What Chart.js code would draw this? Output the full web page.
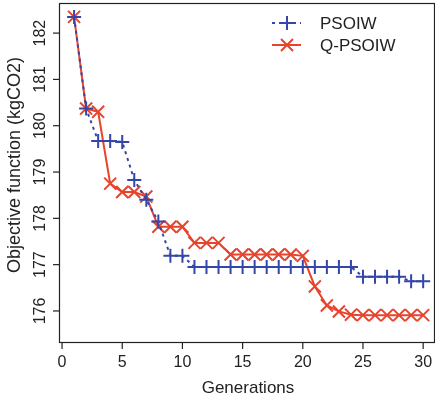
<!DOCTYPE html>
<html>
<head>
<meta charset="utf-8">
<script src="https://cdn.jsdelivr.net/npm/chart.js@4/dist/chart.umd.min.js"></script>
<style>
  html, body { margin: 0; padding: 0; background: #fff; overflow: hidden; }
  canvas { display: block; }
</style>
</head>
<body>
<canvas id="chart" width="435" height="401"></canvas>
<script>
// data
const generations = [1,2,3,4,5,6,7,8,9,10,11,12,13,14,15,16,17,18,19,20,21,22,23,24,25,26,27,28,29,30];
const psoiw = [182.35,180.37,179.67,179.67,179.65,178.83,178.40,177.93,177.19,177.19,
  176.95,176.95,176.95,176.95,176.95,176.95,176.95,176.95,176.95,176.95,176.95,176.95,176.95,176.95,
  176.74,176.74,176.74,176.74,176.64,176.64];
const qpsoiw = [182.35,180.37,180.30,178.75,178.57,178.57,178.47,177.82,177.82,177.82,
  177.47,177.47,177.47,177.22,177.22,177.22,177.22,177.22,177.22,177.19,
  176.53,176.12,175.99,175.92,175.91,175.91,175.91,175.91,175.91,175.91];
const xTicks = [0,5,10,15,20,25,30];
const yTicks = [176,177,178,179,180,181,182];

const BLUE = "#3446a8";
const RED = "#e8432c";
const FAMILY = "'Liberation Sans', Arial, sans-serif";

// R-style axes, box and legend drawn by hand
const rStyle = {
  id: "rStyle",
  afterDraw(chart) {
    const ctx = chart.ctx;
    const a = chart.chartArea;
    const xs = chart.scales.x, ys = chart.scales.y;
    ctx.save();
    ctx.strokeStyle = "#222";
    ctx.fillStyle = "#222";
    ctx.lineWidth = 1.2;
    ctx.strokeRect(a.left - 0.5, a.top + 0.5, a.right - a.left + 1, a.bottom - a.top);

    ctx.textAlign = "center";
    ctx.textBaseline = "middle";
    ctx.font = "16px " + FAMILY;
    xTicks.forEach(t => {
      const px = xs.getPixelForValue(t);
      ctx.beginPath();
      ctx.moveTo(px, a.bottom);
      ctx.lineTo(px, a.bottom + 7);
      ctx.stroke();
      ctx.fillText(String(t), px, a.bottom + 21);
    });
    ctx.font = "17px " + FAMILY;
    ctx.fillText("Generations", 248, 388);

    ctx.font = "16px " + FAMILY;
    yTicks.forEach(t => {
      const py = ys.getPixelForValue(t);
      ctx.beginPath();
      ctx.moveTo(a.left, py);
      ctx.lineTo(a.left - 7, py);
      ctx.stroke();
      ctx.save();
      ctx.translate(41, py);
      ctx.rotate(-Math.PI / 2);
      ctx.fillText(String(t), 0, 0);
      ctx.restore();
    });
    ctx.font = "18px " + FAMILY;
    ctx.save();
    ctx.translate(15, 165);
    ctx.rotate(-Math.PI / 2);
    ctx.fillText("Objective function (kgCO2)", 0, 0);
    ctx.restore();

    // legend
    const items = [
      { label: "PSOIW", color: BLUE, dash: [3, 4], y: 23, cross: true },
      { label: "Q-PSOIW", color: RED, dash: [], y: 45, cross: false }
    ];
    ctx.font = "17px " + FAMILY;
    ctx.textAlign = "left";
    items.forEach(it => {
      ctx.strokeStyle = it.color;
      ctx.lineWidth = 2;
      ctx.setLineDash(it.dash);
      ctx.beginPath();
      ctx.moveTo(272, it.y);
      ctx.lineTo(301, it.y);
      ctx.stroke();
      ctx.setLineDash([]);
      ctx.beginPath();
      const cx = 287;
      if (it.cross) {
        ctx.moveTo(cx - 7, it.y); ctx.lineTo(cx + 7, it.y);
        ctx.moveTo(cx, it.y - 7); ctx.lineTo(cx, it.y + 7);
      } else {
        ctx.moveTo(cx - 6, it.y - 6); ctx.lineTo(cx + 6, it.y + 6);
        ctx.moveTo(cx - 6, it.y + 6); ctx.lineTo(cx + 6, it.y - 6);
      }
      ctx.stroke();
      ctx.fillStyle = "#222";
      ctx.fillText(it.label, 320, it.y + 1);
    });
    ctx.restore();
  }
};

new Chart(document.getElementById("chart"), {
  type: "line",
  data: {
    labels: generations,
    datasets: [
      {
        label: "PSOIW",
        data: generations.map((g, i) => ({ x: g, y: psoiw[i] })),
        borderColor: BLUE,
        borderWidth: 2,
        borderDash: [3, 4],
        pointStyle: "cross",
        pointRadius: 7,
        pointBorderWidth: 2,
        pointBorderColor: BLUE,
        pointBackgroundColor: BLUE,
        fill: false
      },
      {
        label: "Q-PSOIW",
        data: generations.map((g, i) => ({ x: g, y: qpsoiw[i] })),
        borderColor: RED,
        borderWidth: 2,
        pointStyle: "crossRot",
        pointRadius: 8.5,
        pointBorderWidth: 2,
        pointBorderColor: RED,
        pointBackgroundColor: RED,
        fill: false
      }
    ]
  },
  options: {
    responsive: false,
    animation: false,
    devicePixelRatio: 1,
    layout: { autoPadding: false, padding: { left: 60, top: 3, right: 1, bottom: 59 } },
    plugins: { legend: { display: false }, tooltip: { enabled: false } },
    scales: {
      x: { type: "linear", min: -0.17, max: 30.9, display: false },
      y: { type: "linear", min: 175.33, max: 182.65, display: false }
    }
  },
  plugins: [rStyle]
});
</script>
</body>
</html>
